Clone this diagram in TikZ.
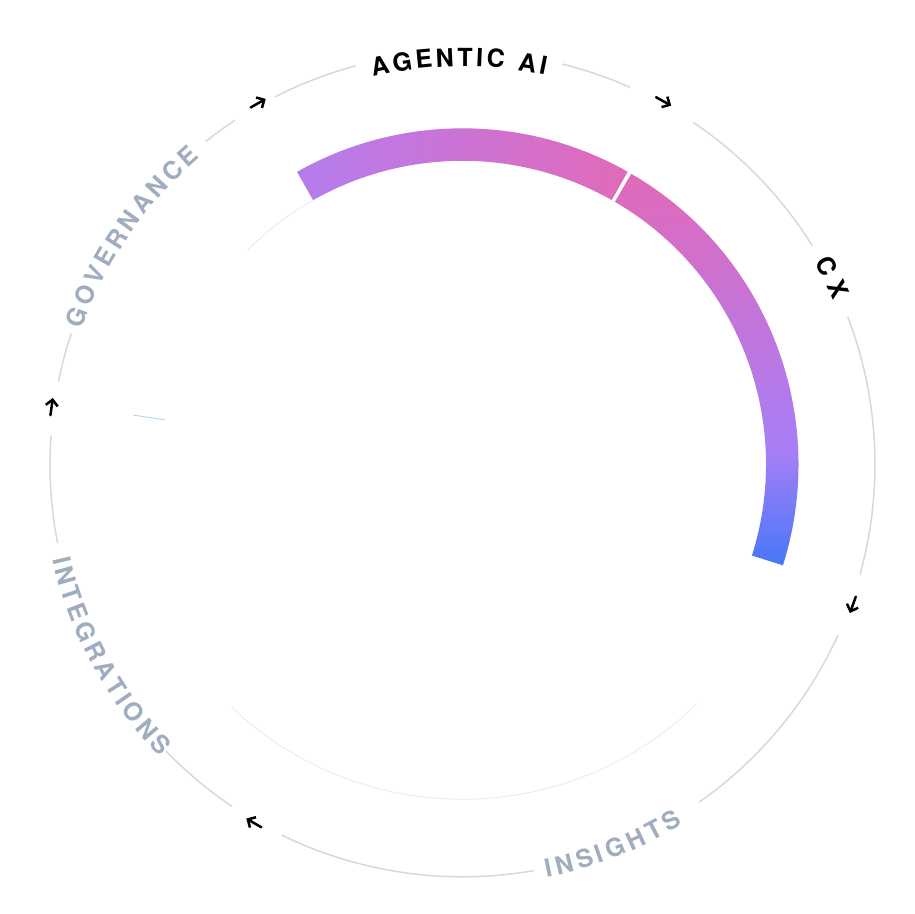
\documentclass[tikz,border=0pt]{standalone}
\usepackage{fontspec}
\setmainfont{TeX Gyre Heros}
\usepackage{tikz}
\usetikzlibrary{calc}
\usetikzlibrary{arrows.meta}
\usetikzlibrary{decorations.text}
\usepackage{xcolor}

\definecolor{ringgray}{RGB}{216,216,216}
\definecolor{labelgray}{RGB}{160,173,191}
\definecolor{violetend}{RGB}{181,124,238}
\definecolor{pinkmid}{RGB}{225,106,185}
\definecolor{lavender}{RGB}{168,126,246}
\definecolor{bluemid}{RGB}{118,123,248}
\definecolor{blueend}{RGB}{70,119,246}
\definecolor{mistcyan}{RGB}{214,240,250}
\definecolor{mistblue}{RGB}{165,210,246}
\definecolor{mistviolet}{RGB}{234,228,250}

\pgfdeclarehorizontalshading{agenticshade}{100bp}{color(0bp)=(violetend); color(25bp)=(violetend); color(75bp)=(pinkmid); color(100bp)=(pinkmid)}
\pgfdeclareverticalshading{cxshade}{100bp}{color(0bp)=(blueend); color(25bp)=(blueend); color(32bp)=(bluemid); color(40bp)=(lavender); color(75bp)=(pinkmid); color(100bp)=(pinkmid)}

\newcommand{\ringfont}{\fontsize{25}{29}\selectfont\bfseries}

\begin{document}
\begin{tikzpicture}[x=1pt, y=1pt,
  ringline/.style={ringgray, line width=1.5},
  flowarrow/.style={black, line width=2.5, line cap=round, -{Straight Barb[length=6pt,width=12pt]}},
  darklabel/.style={decorate, decoration={text along path, text align=fit to path, text={|\ringfont\color{black}|#1}}},
  greylabel/.style={decorate, decoration={text along path, text align=fit to path, text={|\ringfont\color{labelgray}|#1}}}]

\useasboundingbox (0,0) rectangle (914,914);
\coordinate (c) at (462.5,449.7);

\foreach \s/\e in {-15.5/21, 32/56, 66/76, 105/117, 123.5/128.5, 161.5/168.5, 176/191, 224/236, 244/280, 305/335.5}
  \draw[ringline] ($(c)+(\s:412.5)$) arc[start angle=\s, end angle=\e, radius=412.5];

\foreach \a [count=\i] in {119.5, 61, -19.8, 239.8, 172} {
  \coordinate (arr\i s) at ($(c)+(\a+1.2:415)$);
  \coordinate (arr\i e) at ($(c)+(\a-1.2:415)$);
  \draw[flowarrow] (arr\i s) -- (arr\i e);
}

\path[darklabel={AGENTIC AI}] ($(c)+(103:398)$) arc[start angle=103, end angle=78, radius=398];
\path[darklabel={CX}] ($(c)+(29.8:405)$) arc[start angle=29.8, end angle=23.8, radius=405];
\path[greylabel={GOVERNANCE}] ($(c)+(160.5:404)$) arc[start angle=160.5, end angle=130.5, radius=404];
\path[greylabel={INTEGRATIONS}] ($(c)+(193:421)$) arc[start angle=193, end angle=224, radius=421];
\path[greylabel={INSIGHTS}] ($(c)+(-78.5:422)$) arc[start angle=-78.5, end angle=-58.5, radius=422];

\draw[mistcyan, line width=0.8] ($(c)+(226.5:335)$) arc[start angle=226.5, end angle=314.5, radius=335];
\draw[mistviolet, line width=0.8] ($(c)+(119.5:303.5)$) arc[start angle=119.5, end angle=135, radius=303.5];
\draw[mistblue, line width=0.8] ($(c)+(171.5:301)$) -- ($(c)+(171.5:333)$);

\shade[shading=agenticshade] ($(c)+(119.5:336)$) arc[start angle=119.5, end angle=60.55, radius=336] -- ($(c)+(60.55:303.5)$) arc[start angle=60.55, end angle=119.5, radius=303.5] -- cycle;
\shade[shading=cxshade] ($(c)+(59.85:336)$) arc[start angle=59.85, end angle=-17.5, radius=336] -- ($(c)+(-17.5:303.5)$) arc[start angle=-17.5, end angle=59.85, radius=303.5] -- cycle;

\end{tikzpicture}
\end{document}
